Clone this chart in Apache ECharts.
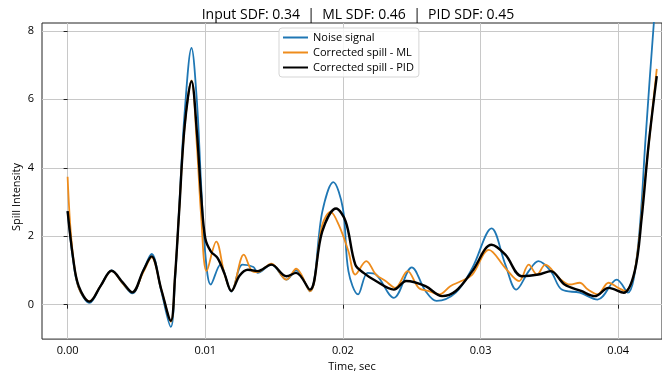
<!DOCTYPE html>
<html>
<head>
<meta charset="utf-8">
<script src="https://cdn.jsdelivr.net/npm/echarts@6/dist/echarts.min.js"></script>
<style>
  html, body { margin: 0; padding: 0; background: #fff; }
  #chart { width: 662px; height: 377px; }
</style>
</head>
<body>
<div id="chart"></div>
<script>
// values (time in sec, spill intensity)
const noiseTime = [0.0000, 0.0004, 0.0008, 0.0016, 0.0024, 0.0032, 0.0040, 0.0047, 0.0055, 0.0061, 0.0068, 0.0075, 0.0078, 0.0081, 0.0085, 0.0090, 0.0094, 0.0097, 0.0100, 0.0104, 0.0111, 0.0119, 0.0127, 0.0135, 0.0138, 0.0148, 0.0159, 0.0166, 0.0176, 0.0185, 0.0193, 0.0200, 0.0204, 0.0211, 0.0218, 0.0224, 0.0237, 0.0250, 0.0260, 0.0268, 0.0282, 0.0294, 0.0308, 0.0318, 0.0326, 0.0335, 0.0342, 0.0351, 0.0359, 0.0372, 0.0385, 0.0399, 0.0407, 0.0414, 0.0420, 0.0426, 0.0429];
const noiseVals = [2.73, 1.30, 0.50, 0.05, 0.55, 1.00, 0.62, 0.33, 1.00, 1.48, 0.40, -0.65, 0.70, 2.80, 5.60, 7.50, 5.90, 3.50, 1.50, 0.59, 1.17, 0.38, 1.17, 1.10, 0.93, 1.17, 0.73, 1.00, 0.39, 2.71, 3.58, 2.81, 0.98, 0.30, 0.93, 0.88, 0.20, 1.09, 0.40, 0.11, 0.35, 1.07, 2.23, 1.17, 0.44, 0.98, 1.27, 0.98, 0.44, 0.35, 0.15, 0.73, 0.35, 1.56, 4.94, 8.30, 9.50];

const mlTime = [0.0000, 0.0003, 0.0008, 0.0016, 0.0024, 0.0032, 0.0040, 0.0047, 0.0055, 0.0061, 0.0068, 0.0075, 0.0078, 0.0081, 0.0085, 0.0090, 0.0094, 0.0097, 0.0101, 0.0108, 0.0114, 0.0119, 0.0128, 0.0134, 0.0138, 0.0148, 0.0159, 0.0166, 0.0176, 0.0185, 0.0191, 0.0197, 0.0204, 0.0209, 0.0217, 0.0224, 0.0231, 0.0238, 0.0247, 0.0255, 0.0263, 0.0270, 0.0278, 0.0286, 0.0294, 0.0306, 0.0318, 0.0328, 0.0335, 0.0341, 0.0347, 0.0357, 0.0365, 0.0372, 0.0378, 0.0385, 0.0393, 0.0400, 0.0405, 0.0412, 0.0419, 0.0428];
const mlVals = [3.74, 1.80, 0.50, 0.10, 0.55, 0.99, 0.62, 0.36, 0.95, 1.38, 0.45, -0.50, 0.80, 2.70, 5.20, 6.55, 4.60, 2.60, 0.98, 1.84, 0.90, 0.40, 1.46, 0.98, 0.95, 1.20, 0.73, 1.05, 0.39, 2.33, 2.71, 2.33, 1.56, 0.88, 1.27, 0.88, 0.69, 0.49, 0.98, 0.49, 0.39, 0.30, 0.54, 0.69, 0.88, 1.60, 1.07, 0.69, 1.17, 0.88, 1.17, 0.78, 0.59, 0.64, 0.44, 0.30, 0.64, 0.49, 0.40, 0.98, 3.49, 6.89];

const pidTime = [0.0000, 0.0004, 0.0008, 0.0016, 0.0024, 0.0032, 0.0040, 0.0047, 0.0055, 0.0061, 0.0068, 0.0075, 0.0078, 0.0081, 0.0085, 0.0090, 0.0094, 0.0097, 0.0100, 0.0104, 0.0109, 0.0114, 0.0119, 0.0125, 0.0131, 0.0138, 0.0148, 0.0159, 0.0166, 0.0176, 0.0185, 0.0195, 0.0202, 0.0209, 0.0215, 0.0224, 0.0237, 0.0246, 0.0260, 0.0272, 0.0282, 0.0294, 0.0308, 0.0318, 0.0330, 0.0342, 0.0351, 0.0361, 0.0373, 0.0383, 0.0393, 0.0404, 0.0412, 0.0417, 0.0422, 0.0428];
const pidVals = [2.73, 1.36, 0.55, 0.09, 0.55, 0.99, 0.65, 0.36, 1.00, 1.41, 0.45, -0.47, 0.80, 2.70, 5.20, 6.53, 5.00, 3.20, 1.94, 1.56, 1.36, 0.90, 0.40, 0.85, 1.02, 0.98, 1.17, 0.83, 0.93, 0.44, 2.14, 2.81, 2.43, 1.17, 0.93, 0.69, 0.44, 0.69, 0.54, 0.25, 0.40, 0.98, 1.75, 1.46, 0.83, 0.88, 0.98, 0.59, 0.40, 0.25, 0.49, 0.35, 0.98, 2.52, 4.65, 6.68];

const xTicks = [0, 0.01, 0.02, 0.03, 0.04];
const yTicks = [0, 2, 4, 6, 8];

const titleText = 'Input SDF: 0.34  |  ML SDF: 0.46  |  PID SDF: 0.45';
const seriesNames = ['Noise signal', 'Corrected spill - ML', 'Corrected spill - PID'];

const FONT = "'Open Sans', 'DejaVu Sans', sans-serif";

function zip(t, v) {
    return t.map((x, i) => [x, v[i]]);
}

const chart = echarts.init(document.getElementById('chart'), null, { renderer: 'canvas' });

const option = {
    animation: false,
    backgroundColor: '#fff',
    title: {
        text: titleText,
        left: 353,
        top: 3,
        textAlign: 'center',
        textStyle: { fontFamily: FONT, fontSize: 14, fontWeight: 500, color: '#000' }
    },
    legend: {
        orient: 'vertical',
        left: 279,
        top: 28,
        icon: 'rect',
        itemWidth: 25,
        itemHeight: 2,
        itemGap: 4,
        padding: [4, 5, 4, 4],
        backgroundColor: 'rgba(255,255,255,0.85)',
        borderColor: '#d5d5d5',
        borderWidth: 1,
        borderRadius: 3,
        textStyle: { fontFamily: FONT, fontSize: 11, fontWeight: 500, color: '#000' },
        data: seriesNames
    },
    grid: {
        left: 42,
        right: -2,
        top: 23,
        bottom: 35,
        show: true,
        borderColor: '#222',
        borderWidth: 1
    },
    xAxis: {
        type: 'value',
        min: -0.00186,
        max: 0.04318,
        name: 'Time, sec',
        nameLocation: 'middle',
        nameGap: 20,
        nameTextStyle: { fontFamily: FONT, fontSize: 11, fontWeight: 500, color: '#000' },
        axisLine: { show: false },
        axisTick: {
            show: true, inside: false, length: 4,
            customValues: xTicks,
            lineStyle: { color: '#222' }
        },
        axisLabel: {
            customValues: xTicks,
            margin: 6,
            fontFamily: FONT, fontSize: 11, fontWeight: 500, color: '#000',
            formatter: v => v.toFixed(2)
        },
        splitLine: { show: true, lineStyle: { color: '#c8c8c8', width: 1 } }
    },
    yAxis: {
        type: 'value',
        min: -1.006,
        max: 8.23,
        splitNumber: 5,
        axisLine: { show: false },
        axisTick: {
            show: true, inside: false, length: 4,
            customValues: yTicks,
            lineStyle: { color: '#222' }
        },
        axisLabel: {
            customValues: yTicks,
            margin: 8,
            fontFamily: FONT, fontSize: 11, fontWeight: 500, color: '#000',
            formatter: v => String(Math.round(v))
        },
        splitLine: { show: true, lineStyle: { color: '#c8c8c8', width: 1 } }
    },
    graphic: [{
        type: 'text',
        x: 17,
        y: 197,
        rotation: Math.PI / 2,
        style: {
            text: 'Spill Intensity',
            font: "500 11px 'Open Sans', 'DejaVu Sans', sans-serif",
            fill: '#000',
            textAlign: 'center',
            textVerticalAlign: 'middle'
        }
    }],
    series: [
        {
            name: seriesNames[0],
            type: 'line',
            data: zip(noiseTime, noiseVals),
            smooth: 0.35,
            showSymbol: false,
            clip: true,
            color: '#1f77b4',
            lineStyle: { width: 1.8 },
            z: 2
        },
        {
            name: seriesNames[1],
            type: 'line',
            data: zip(mlTime, mlVals),
            smooth: 0.35,
            showSymbol: false,
            clip: true,
            color: '#ee8c1c',
            lineStyle: { width: 1.8 },
            z: 3
        },
        {
            name: seriesNames[2],
            type: 'line',
            data: zip(pidTime, pidVals),
            smooth: 0.35,
            showSymbol: false,
            clip: true,
            color: '#000',
            lineStyle: { width: 2.4 },
            z: 4
        }
    ]
};

chart.setOption(option);
</script>
</body>
</html>
